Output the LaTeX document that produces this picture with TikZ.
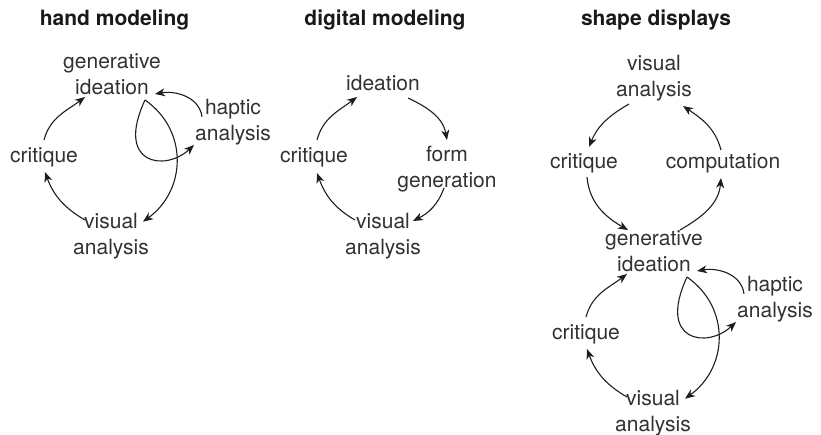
\documentclass[tikz,border=0pt]{standalone}
\usepackage{fontspec}
\setmainfont{TeX Gyre Heros}
\usetikzlibrary{arrows.meta}
\definecolor{textgray}{RGB}{50,50,50}
\definecolor{linegray}{RGB}{30,30,30}

\begin{document}
\begin{tikzpicture}[
    x=1pt, y=1pt,
    stage/.style={align=center, text=textgray, font=\fontsize{21}{26}\selectfont, inner sep=0pt},
    panel/.style={anchor=base, text=black!90, font=\fontsize{21}{26}\selectfont\bfseries, inner sep=0pt},
    flow/.style={-{Stealth[length=10pt,width=8pt,inset=3pt]}, line width=1.1pt, linegray}
]
\useasboundingbox (0,0) rectangle (821,-434);

% Hand modeling
\node[panel] (handtitle) at (114.5,-25) {hand modeling};
\node[stage] (gen) at (112,-74.5) {generative\\ideation};
\node[stage] (hap) at (233,-121.7) {haptic\\analysis};
\node[stage, anchor=base] (crit) at (44,-162) {critique};
\node[stage] (vis) at (111,-235.7) {visual\\analysis};

\draw[flow] ([shift={(0,22)}]crit.base) to[out=75,in=217] ([shift={(-27,-22.5)}]gen.center);
\draw[flow] ([shift={(-31,5)}]hap.center) to[out=98,in=10] ([shift={(43,-19.5)}]gen.center);
\draw[flow] ([shift={(33,-25.5)}]gen.center) to[out=-35,in=36,looseness=1.12] ([shift={(32,14)}]vis.center);
\draw[flow] ([shift={(33,-25.5)}]gen.center) to[out=245,in=223,out looseness=2.75,in looseness=1.52] ([shift={(-39,-23.3)}]hap.center);
\draw[flow] ([shift={(-26,15.7)}]vis.center) to[out=150,in=-70] ([shift={(1,-10)}]crit.base);

% Digital modeling
\node[panel] (digtitle) at (385,-25) {digital modeling};
\node[stage, anchor=base] (ide) at (383,-90) {ideation};
\node[stage, anchor=base] (crit2) at (314,-162) {critique};
\node[stage] (form) at (447,-169.5) {form\\generation};
\node[stage] (vis2) at (383,-235.7) {visual\\analysis};

\draw[flow] ([shift={(25,-8)}]ide.base) to[out=-25,in=100] ([shift={(0,29.5)}]form.center);
\draw[flow] ([shift={(-3,-18.5)}]form.center) to[out=-110,in=27] ([shift={(30,14.7)}]vis2.center);
\draw[flow] ([shift={(-28,15.7)}]vis2.center) to[out=150,in=-70] ([shift={(3,-11)}]crit2.base);
\draw[flow] ([shift={(3,22)}]crit2.base) to[out=75,in=217] ([shift={(-26,-7)}]ide.base);

% Shape displays
\node[panel] (shapetitle) at (656,-25) {shape displays};
\node[stage] (vis3) at (654,-77.7) {visual\\analysis};
\node[stage, anchor=base] (crit3) at (584,-168) {critique};
\node[stage, anchor=base] (comp) at (723,-168) {computation};
\node[stage] (gen3) at (654,-251.5) {generative\\ideation};
\node[stage] (hap3) at (775,-298.7) {haptic\\analysis};
\node[stage, anchor=base] (crit4) at (586,-339) {critique};
\node[stage] (vis4) at (653,-412.7) {visual\\analysis};

% upper cycle
\draw[flow] ([shift={(-25,-26.3)}]vis3.center) to[out=210,in=68] ([shift={(5,21)}]crit3.base);
\draw[flow] ([shift={(3,-9)}]crit3.base) to[out=-85,in=150] ([shift={(-26,21.5)}]gen3.center);
\draw[flow] ([shift={(26,21.5)}]gen3.center) to[out=30,in=-95] ([shift={(-2,-10)}]comp.base);
\draw[flow] ([shift={(-2,18)}]comp.base) to[out=105,in=-34] ([shift={(29,-28.3)}]vis3.center);

% lower cycle
\draw[flow] ([shift={(0,22)}]crit4.base) to[out=75,in=217] ([shift={(-27,-22.5)}]gen3.center);
\draw[flow] ([shift={(-31,5)}]hap3.center) to[out=98,in=10] ([shift={(43,-19.5)}]gen3.center);
\draw[flow] ([shift={(33,-25.5)}]gen3.center) to[out=-35,in=36,looseness=1.12] ([shift={(32,14)}]vis4.center);
\draw[flow] ([shift={(33,-25.5)}]gen3.center) to[out=245,in=223,out looseness=2.75,in looseness=1.52] ([shift={(-39,-23.3)}]hap3.center);
\draw[flow] ([shift={(-26,15.7)}]vis4.center) to[out=150,in=-70] ([shift={(1,-10)}]crit4.base);

\end{tikzpicture}
\end{document}
